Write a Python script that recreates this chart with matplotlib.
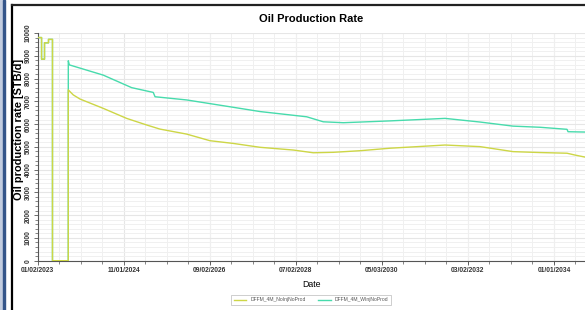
import matplotlib.pyplot as plt
import matplotlib.dates as mdates
from matplotlib.ticker import MultipleLocator, AutoMinorLocator, FixedLocator
from matplotlib.patches import Rectangle
from matplotlib.lines import Line2D
import pandas as pd

plt.rcParams['font.family'] = ['Liberation Sans', 'DejaVu Sans']

# Datos (fechas, caudal STB/d)
fechas_hist = ["2023-01-02", "2023-02-01", "2023-02-01", "2023-02-24", "2023-02-24",
               "2023-03-27", "2023-03-27", "2023-04-27", "2023-04-27", "2023-08-28"]
q_hist = [9800, 9800, 8850, 8850, 9570, 9570, 9720, 9720, 0, 0]

fechas_noinj = ["2023-08-28", "2023-10-06", "2023-11-27", "2024-05-26", "2024-11-24",
                "2025-04-29", "2025-08-10", "2026-03-06", "2026-09-03", "2027-03-04",
                "2027-09-28", "2028-06-13", "2028-11-15", "2029-04-20", "2029-11-14",
                "2030-07-05", "2031-09-06", "2032-06-04", "2033-02-16", "2033-09-14",
                "2034-04-12", "2034-06-13", "2034-08-30"]
q_noinj = [7500, 7280, 7100, 6690, 6250, 5960, 5780, 5560, 5270, 5150,
           4980, 4860, 4740, 4760, 4830, 4940, 5080, 5010, 4790, 4750,
           4720, 4640, 4550]

fechas_winj = ["2023-08-28", "2023-08-28", "2023-09-05", "2024-05-26", "2025-01-02",
               "2025-06-19", "2025-07-03", "2026-03-06", "2027-02-06", "2027-09-28",
               "2028-09-25", "2029-02-01", "2029-07-07", "2030-07-05", "2031-09-06",
               "2032-06-04", "2033-02-16", "2033-09-14", "2034-04-12", "2034-04-20",
               "2034-08-30"]
q_winj = [7500, 8780, 8600, 8150, 7600, 7390, 7200, 7060, 6760, 6550,
          6320, 6100, 6060, 6140, 6250, 6090, 5910, 5860, 5770, 5665,
          5650]

etiquetas_x = ["01/02/2023", "11/01/2024", "09/02/2026", "07/02/2028",
               "05/03/2030", "03/02/2032", "01/01/2034"]
series = ["DFFM_4M_NoInjNoProd", "DFFM_4M_WInjNoProd"]
colores = ["#cdd646", "#47dbac"]

t_hist = pd.to_datetime(fechas_hist)
t_noinj = t_hist.append(pd.to_datetime(fechas_noinj))
v_noinj = q_hist + q_noinj
t_winj = t_hist.append(pd.to_datetime(fechas_winj))
v_winj = q_hist + q_winj

fig = plt.figure(figsize=(5.85, 3.10), dpi=100)
ax = fig.add_axes([37.7 / 585, 49.3 / 310, 1 - 37.7 / 585, 227.7 / 310])

# la serie con inyeccion va debajo (comparten el historico)
l_winj, = ax.plot(t_winj, v_winj, color=colores[1], lw=1.0, zorder=3)
l_noinj, = ax.plot(t_noinj, v_noinj, color=colores[0], lw=1.0, zorder=4)

# Ejes
ax.set_ylim(0, 10000)
ax.set_xlim(pd.Timestamp("2023-01-02"), pd.Timestamp("2034-08-30"))
ticks_x = pd.to_datetime(etiquetas_x, format="%m/%d/%Y")
ax.xaxis.set_major_locator(FixedLocator(mdates.date2num(ticks_x)))
ax.set_xticklabels(etiquetas_x)
ax.xaxis.set_minor_locator(AutoMinorLocator(4))
ax.yaxis.set_major_locator(MultipleLocator(1000))
ax.yaxis.set_minor_locator(MultipleLocator(200))

ax.grid(True, which='major', color='#e6e6e6', lw=0.8)
ax.grid(True, which='minor', color='#f0f0f0', lw=0.7)
ax.set_axisbelow(True)

for s in ['top', 'right']:
    ax.spines[s].set_visible(False)
for s in ['left', 'bottom']:
    ax.spines[s].set_color('#555555')
    ax.spines[s].set_linewidth(0.8)

ax.tick_params(which='major', length=3, width=0.6, color='#555555', pad=1.5,
               labelsize=4.8, labelcolor='#333333')
ax.tick_params(which='minor', length=2, width=0.5, color='#555555')
for lab in ax.get_xticklabels() + ax.get_yticklabels():
    lab.set_fontweight('bold')
plt.setp(ax.get_yticklabels(), rotation=90, va='center')

ax.set_title("Oil Production Rate", fontsize=8, fontweight='bold', pad=8)
ax.set_ylabel("Oil production rate [STB/d]", fontsize=7.9, fontweight='bold',
              va='center')
ax.yaxis.set_label_coords(-18.5 / 547.3, 0.575)
ax.set_xlabel("Date", fontsize=6.3, labelpad=4)

leg = fig.legend([l_noinj, l_winj], series, loc='center',
                 bbox_to_anchor=(311 / 585, 1 - 300 / 310), ncol=2,
                 fontsize=3.6, frameon=True, fancybox=False, edgecolor='#aaaaaa',
                 handlelength=2.5, columnspacing=2.5, borderpad=0.5)
leg.get_frame().set_linewidth(0.5)
for txt in leg.get_texts():
    txt.set_color('#555555')

# Marco de la ventana
fig.patches.append(Rectangle((0, 0), 3 / 585, 1, transform=fig.transFigure,
                             color='#c3cde0', zorder=0))
fig.patches.append(Rectangle((3 / 585, 0), 1.5 / 585, 1, transform=fig.transFigure,
                             color='#34558a', zorder=0))
fig.add_artist(Line2D([11.5 / 585, 11.5 / 585], [0, 1 - 5 / 310], color='black', lw=1.6,
                      transform=fig.transFigure))
fig.add_artist(Line2D([11.5 / 585, 1], [1 - 5 / 310, 1 - 5 / 310], color='#222222', lw=1.6,
                      transform=fig.transFigure))

fig.savefig("out.png", dpi=100)
